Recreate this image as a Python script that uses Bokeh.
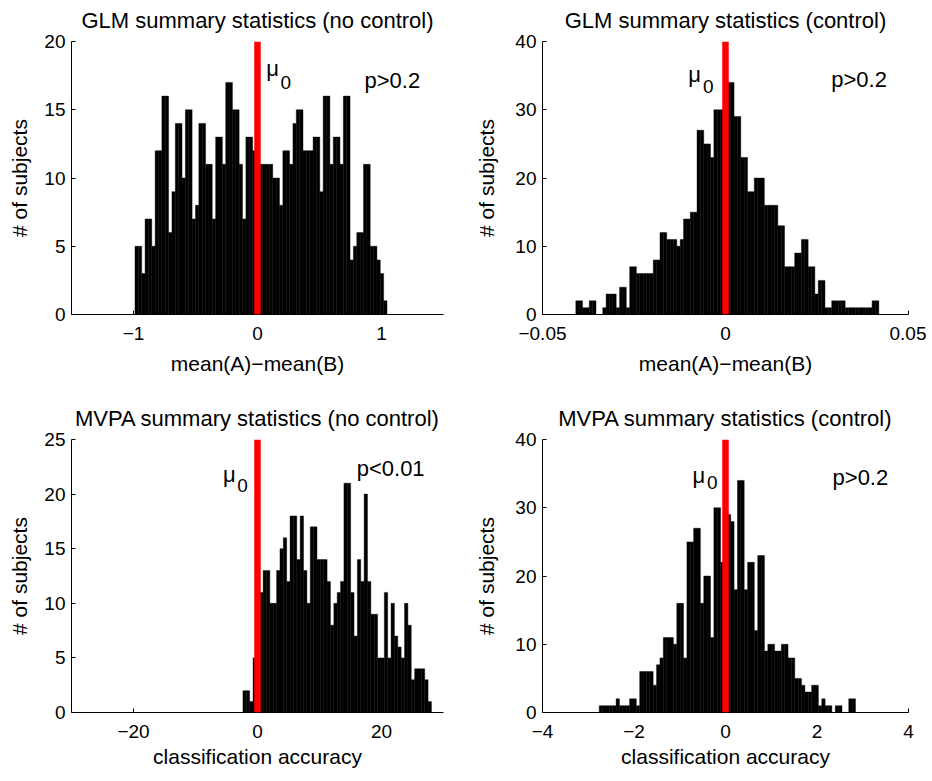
import numpy as np
from bokeh.plotting import figure
from bokeh.models import Range1d, Span, Label, FixedTicker
from bokeh.layouts import column, row
from bokeh.embed import file_html
from bokeh.resources import INLINE

# ---------------- data (histogram counts) ----------------
# Panel 1: GLM summary statistics (no control)
glm_nc_start = -0.988
glm_nc_binw = 0.0271
glm_nc_counts = [5, 5, 3, 7, 7, 5, 12, 12, 16, 16, 6, 9, 14, 14, 10, 15, 15, 7, 8, 14,
                 14, 11, 11, 7, 13, 13, 11, 17, 17, 15, 15, 11, 7, 13, 13, 12, 12, 11,
                 11, 11, 11, 10, 10, 8, 12, 12, 11, 14, 15, 15, 12, 12, 12, 13, 13, 9,
                 16, 16, 11, 13, 13, 11, 16, 16, 4, 5, 6, 6, 11, 11, 5, 5, 4, 3, 1]

# Panel 2: GLM summary statistics (control)
glm_c_start = -0.0409
glm_c_binw = 0.00092
glm_c_counts = [2, 2, 1, 1, 2, 2, 0, 0, 1, 3, 3, 3, 1, 4, 4, 1, 7, 7, 6, 6,
                6, 6, 6, 8, 8, 12, 12, 11, 11, 11, 10, 11, 14, 14, 15, 15, 27, 27, 25, 25,
                23, 30, 30, 30, 32, 34, 34, 29, 29, 23, 23, 18, 18, 20, 20, 20, 16, 16, 16, 16,
                13, 13, 7, 7, 7, 9, 9, 11, 11, 7, 7, 3, 5, 5, 1, 1, 2, 2, 2, 2,
                1, 1, 1, 1, 1, 1, 1, 1, 2, 2]

# Panel 3: MVPA summary statistics (no control)
mvpa_nc_start = -2.35
mvpa_nc_binw = 0.543
mvpa_nc_counts = [2, 2, 1, 5, 8, 11, 13, 13, 10, 10, 13, 15, 16, 12, 18, 18, 14, 18, 13, 10,
                  17, 17, 14, 14, 14, 12, 8, 10, 11, 12, 21, 21, 11, 7, 14, 12, 20, 12, 9, 9,
                  5, 5, 11, 5, 10, 7, 6, 5, 10, 8, 3, 4, 4, 4, 3, 1]

# Panel 4: MVPA summary statistics (control)
mvpa_c_start = -2.76
mvpa_c_binw = 0.0737
mvpa_c_counts = [1, 1, 1, 1, 1, 2, 1, 1, 1, 2, 2, 1, 6, 6, 6, 6, 4, 7, 8, 11,
                 11, 11, 10, 16, 16, 8, 25, 25, 27, 27, 16, 20, 20, 11, 30, 30, 22, 31, 29, 28,
                 18, 34, 34, 18, 22, 22, 12, 23, 23, 9, 10, 10, 9, 9, 10, 10, 8, 8, 5, 5,
                 4, 3, 3, 4, 4, 1, 2, 1, 1, 0, 1, 1, 0, 0, 2, 2]

titles = ["GLM summary statistics (no control)", "GLM summary statistics (control)",
          "MVPA summary statistics (no control)", "MVPA summary statistics (control)"]
xlabels = ["mean(A)\u2212mean(B)", "mean(A)\u2212mean(B)",
           "classification accuracy", "classification accuracy"]
ylabel = "# of subjects"
p_texts = ["p>0.2", "p>0.2", "p<0.01", "p>0.2"]

x_ranges = [(-1.5, 1.5), (-0.05, 0.05), (-30, 30), (-4, 4)]
y_ranges = [(0, 20), (0, 40), (0, 25), (0, 40)]
x_ticks = [[-1, 0, 1], [-0.05, 0, 0.05], [-20, 0, 20], [-4, -2, 0, 2, 4]]
x_tick_labels = [["\u22121", "0", "1"], ["\u22120.05", "0", "0.05"],
                 ["\u221220", "0", "20"], ["\u22124", "\u22122", "0", "2", "4"]]
y_ticks = [[0, 5, 10, 15, 20], [0, 10, 20, 30, 40], [0, 5, 10, 15, 20, 25], [0, 10, 20, 30, 40]]

# annotation anchor positions (data units)
mu_pos = [(0.07, 17.8), (-0.0102, 34.7), (-5.55, 21.5), (-0.72, 34.3)]
sub_pos = [(0.185, 16.8), (-0.00615, 32.9), (-3.26, 20.5), (-0.405, 33.2)]
p_pos = [(0.863, 16.7), (0.0289, 33.5), (16.0, 21.8), (2.34, 33.5)]

FONT = "Liberation Sans"


def make_panel(i, counts, start, binw, frame_w, borders, xlab_standoff, ylab_standoff):
    left, right, top, bottom = borders
    p = figure(frame_width=frame_w, frame_height=273,
               min_border_left=left, min_border_right=right,
               min_border_top=top, min_border_bottom=bottom,
               x_range=Range1d(*x_ranges[i]), y_range=Range1d(*y_ranges[i]),
               output_backend="svg", toolbar_location=None, title=titles[i])
    p.outline_line_color = None
    p.grid.visible = False
    p.background_fill_color = "white"
    p.border_fill_color = "white"

    p.title.text_font = FONT
    p.title.text_font_size = "22px"
    p.title.text_font_style = "normal"
    p.title.align = "center"
    p.title.vertical_align = "top"
    p.title.text_color = "black"
    p.title.standoff = 13

    counts = np.array(counts, dtype=float)
    centers = start + binw * (np.arange(len(counts)) + 0.5)
    p.vbar(x=centers, top=counts, bottom=0, width=binw,
           fill_color="black", line_color="black", line_width=0.4)

    p.add_layout(Span(location=0, dimension="height", line_color="#ff0000",
                      line_width=6.5))

    for ax in (p.xaxis[0], p.yaxis[0]):
        ax.axis_line_color = "black"
        ax.axis_line_width = 1
        ax.major_tick_line_color = "black"
        ax.major_tick_in = 4
        ax.major_tick_out = 0
        ax.minor_tick_line_color = None
        ax.major_label_text_font = FONT
        ax.major_label_text_font_size = "19px"
        ax.major_label_text_color = "black"
        ax.axis_label_text_font = FONT
        ax.axis_label_text_font_size = "21px"
        ax.axis_label_text_font_style = "normal"
        ax.axis_label_text_color = "black"

    p.xaxis.ticker = FixedTicker(ticks=x_ticks[i])
    p.xaxis.major_label_overrides = {t: s for t, s in zip(x_ticks[i], x_tick_labels[i])}
    p.xaxis.major_label_standoff = 12
    p.xaxis.axis_label = xlabels[i]
    p.xaxis.axis_label_standoff = xlab_standoff

    p.yaxis.ticker = FixedTicker(ticks=y_ticks[i])
    p.yaxis.major_label_standoff = 6
    p.yaxis.axis_label = ylabel
    p.yaxis.axis_label_standoff = ylab_standoff

    p.add_layout(Label(x=mu_pos[i][0], y=mu_pos[i][1], y_offset=3, text="\u03bc",
                       text_font=FONT, text_font_size="22px", text_color="black",
                       text_align="left", text_baseline="alphabetic"))
    p.add_layout(Label(x=sub_pos[i][0], y=sub_pos[i][1], y_offset=3, text="0",
                       text_font=FONT, text_font_size="19px", text_color="black",
                       text_align="left", text_baseline="alphabetic"))
    p.add_layout(Label(x=p_pos[i][0], y=p_pos[i][1], y_offset=6, text=p_texts[i],
                       text_font=FONT, text_font_size="22px", text_color="black",
                       text_align="left", text_baseline="alphabetic"))
    return p


p1 = make_panel(0, glm_nc_counts, glm_nc_start, glm_nc_binw, 372, (71, 22, 41, 84), 9, 10)
p2 = make_panel(1, glm_c_counts, glm_c_start, glm_c_binw, 366, (77, 18, 41, 84), 9, 14)
p3 = make_panel(2, mvpa_nc_counts, mvpa_nc_start, mvpa_nc_binw, 372, (71, 22, 41, 62), 4, 10)
p4 = make_panel(3, mvpa_c_counts, mvpa_c_start, mvpa_c_binw, 366, (77, 18, 41, 62), 4, 14)

layout = column(row(p1, p2), row(p3, p4))

open("out.html", "w").write(file_html(layout, INLINE))
